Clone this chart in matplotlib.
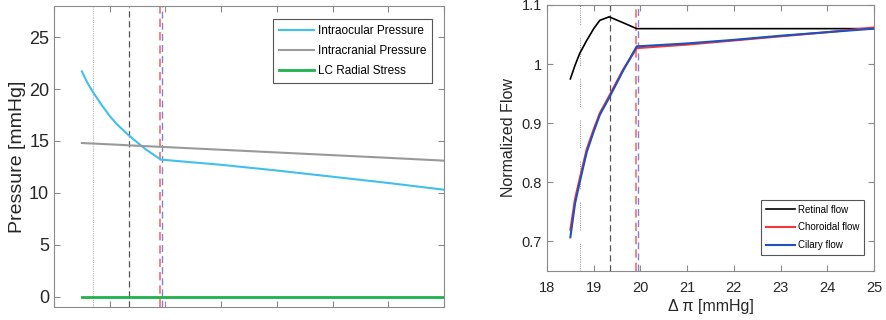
import matplotlib.pyplot as plt
import numpy as np

plt.rcParams['font.family'] = ['Liberation Sans', 'DejaVu Sans']

# x-axis: pressure difference delta pi [mmHg]
dpi_vals = [18.5, 18.6, 18.7, 18.85, 19.0, 19.13, 19.33, 19.63, 19.92, 21.0, 22.0, 23.0, 24.0, 25.0]

# left panel: pressures [mmHg]
iop = [21.7, 20.6, 19.7, 18.5, 17.4, 16.6, 15.6, 14.25, 13.2, 12.7, 12.15, 11.55, 10.95, 10.3]
icp = [14.8, 14.77, 14.75, 14.71, 14.67, 14.64, 14.58, 14.5, 14.43, 14.15, 13.89, 13.63, 13.37, 13.1]
lc_stress = [0.0] * len(dpi_vals)

# right panel: normalized flows
retinal = [0.975, 0.998, 1.018, 1.040, 1.060, 1.074, 1.080, 1.070, 1.060, 1.06, 1.06, 1.06, 1.06, 1.06]
choroidal = [0.72, 0.772, 0.806, 0.856, 0.89, 0.917, 0.946, 0.991, 1.027, 1.033, 1.04, 1.047, 1.054, 1.062]
ciliary = [0.707, 0.764, 0.8, 0.851, 0.886, 0.914, 0.943, 0.989, 1.03, 1.035, 1.041, 1.048, 1.054, 1.06]

# vertical markers
v_dotted = 18.7
v_dashed = 19.35
v_red = 19.9
v_blue = 19.94

edge = '#8a8a8a'
dash = (0, (5, 3))

fig = plt.figure(figsize=(8.87, 3.2), dpi=100)
ax1 = fig.add_axes([54 / 887, 13 / 320, 390 / 887, 301 / 320])
ax2 = fig.add_axes([547 / 887, 49 / 320, 327 / 887, 266 / 320])

for ax in (ax1, ax2):
    for s in ax.spines.values():
        s.set_color(edge)
        s.set_linewidth(0.8)
    ax.tick_params(direction='in', top=True, right=True, color=edge, labelcolor='#262626', length=4)
    ax.set_xlim(18, 25)
    ax.set_xticks(range(18, 26))

# left panel
ax1.axvline(v_dotted, color='#b8b8b8', ls=(0, (1, 1)), lw=0.8)
ax1.axvline(v_dashed, color='#555555', ls=dash, lw=0.9)
ax1.axvline(v_red, color='#f07070', ls=dash, lw=1.2)
ax1.axvline(v_blue, color='#8080e0', ls=dash, lw=1.0)
ax1.plot(dpi_vals, iop, color='#41c0ea', lw=1.5, label='Intraocular Pressure')
ax1.plot(dpi_vals, icp, color='#999999', lw=1.5, label='Intracranial Pressure')
ax1.plot(dpi_vals, lc_stress, color='#1db34a', lw=2.0, label='LC Radial Stress')
ax1.set_ylim(-1, 28)
ax1.set_yticks([0, 5, 10, 15, 20, 25])
ax1.tick_params(axis='y', labelsize=13)
ax1.set_xticklabels([])
ax1.set_ylabel('Pressure [mmHg]', fontsize=14, color='#262626', labelpad=2)
leg1 = ax1.legend(loc='upper right', fontsize=8.5, fancybox=False, framealpha=1,
                  edgecolor='#555555', handlelength=3, handletextpad=0.3,
                  borderpad=0.5, labelspacing=0.7, borderaxespad=0,
                  bbox_to_anchor=(0.969, 0.957))
leg1.get_frame().set_linewidth(0.8)

# right panel
ax2.axvline(v_dotted, color='#a0a0a0', ls=(0, [1, 1] * 12 + [1, 12]), lw=0.8)
ax2.axvline(v_dashed, color='#555555', ls=dash, lw=0.9)
ax2.axvline(v_red, color='#f07070', ls=dash, lw=1.2)
ax2.axvline(v_blue, color='#8080e0', ls=dash, lw=1.0)
ax2.plot(dpi_vals, retinal, color='black', lw=1.2, label='Retinal flow')
ax2.plot(dpi_vals, choroidal, color='#f03838', lw=1.5, label='Choroidal flow')
ax2.plot(dpi_vals, ciliary, color='#2050c0', lw=1.5, label='Cilary flow')
ax2.set_ylim(0.65, 1.1)
ax2.set_yticks([0.7, 0.8, 0.9, 1.0, 1.1])
ax2.set_yticklabels(['0.7', '0.8', '0.9', '1', '1.1'])
ax2.tick_params(labelsize=10.5)
ax2.tick_params(axis='x', pad=7)
ax2.set_xlabel('Δ π [mmHg]', fontsize=11.5, color='#262626', labelpad=3)
ax2.set_ylabel('Normalized Flow', fontsize=11.5, color='#262626', labelpad=4)
leg2 = ax2.legend(loc='lower right', fontsize=7, fancybox=False, framealpha=1,
                  edgecolor='#555555', handlelength=3, handletextpad=0.3,
                  borderpad=0.5, labelspacing=0.8, borderaxespad=0,
                  bbox_to_anchor=(0.969, 0.06))
leg2.get_frame().set_linewidth(0.8)

fig.savefig('out.png', dpi=100)
